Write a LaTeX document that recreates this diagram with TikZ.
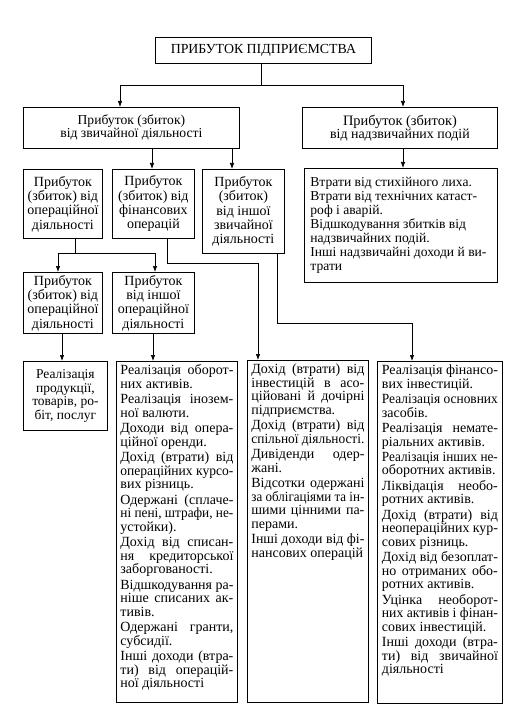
\documentclass[tikz,border=0pt]{standalone}
\usepackage{fontspec}
\usepackage{graphicx}
\setmainfont{Liberation Serif}
\usetikzlibrary{arrows.meta}
% justified line; squeezed horizontally if too wide
\newcommand\jl[1]{\setbox0\hbox{#1}%
  \ifdim\wd0>\hsize
    \pgfmathsetmacro\rr{\hsize/\wd0}\hbox to\hsize{\scalebox{\rr}[1]{#1}}%
  \else\hbox to\hsize{#1}\fi}
\newcommand\lastl[1]{\setbox0\hbox{#1}%
  \ifdim\wd0>\hsize
    \pgfmathsetmacro\rr{\hsize/\wd0}\hbox to\hsize{\scalebox{\rr}[1]{#1}}%
  \else\hbox to\hsize{#1\hfil}\fi}
\newcommand\ig{\vskip1.7pt}
\newcommand\fs{\fontsize{14pt}{13.6pt}\selectfont}
\newcommand\fb{\fontsize{14pt}{14.3pt}\selectfont}
\tikzset{
  bx/.style={draw, line width=0.8pt, anchor=north west, inner sep=0pt, font=\fs},
  cbox/.style={bx, align=center},
  arr/.style={-{Latex[length=6pt,width=4.5pt]}, line width=0.7pt},
  ln/.style={line width=0.7pt}
}
\begin{document}
\begin{tikzpicture}[x=1pt,y=-1pt]
\useasboundingbox (0,0) rectangle (520,714);
% top level
\node[cbox, minimum width=216, minimum height=26, font=\fontsize{13.85pt}{14pt}\selectfont] (title) at (155,37) {ПРИБУТОК ПІДПРИЄМСТВА};
\node[cbox, minimum width=216, minimum height=41] (A) at (23,107) {{\fontsize{13.6pt}{14pt}\selectfont Прибуток (збиток)}\\[-0.5pt]{\fontsize{13.7pt}{14pt}\selectfont від звичайної діяльності}};
\node[cbox, minimum width=195, minimum height=41] (B) at (302,107) {{\fontsize{14.4pt}{14pt}\selectfont Прибуток (збиток)}\\[-0.5pt]{\fontsize{13.9pt}{14pt}\selectfont від надзвичайних подій}};
% second level
\node[cbox, minimum width=79, minimum height=69, font=\fb] (n1) at (23,169) {Прибуток\\(збиток) від\\операційної\\діяльності};
\node[cbox, minimum width=82, minimum height=69, font=\fb] (n2) at (112,169) {Прибуток\\(збиток) від\\фінансових\\операцій};
\node[cbox, minimum width=82, minimum height=84, font=\fb] (n3) at (202,169) {Прибуток\\(збиток)\\від іншої\\звичайної\\діяльності};
\node[bx, minimum width=193, minimum height=114, font=\fontsize{13.6pt}{13.9pt}\selectfont] (v) at (304,168) {\parbox{181pt}{\raggedright Втрати від стихійного лиха.\\Втрати від технічних катаст-\\роф і аварій.\\Відшкодування збитків від\\надзвичайних подій.\\Інші надзвичайні доходи й ви-\\трати}};
% third level
\node[cbox, minimum width=79, minimum height=61, font=\fb] (n4) at (23,272) {Прибуток\\(збиток) від\\операційної\\діяльності};
\node[cbox, minimum width=82, minimum height=61, font=\fb] (n5) at (112,272) {Прибуток\\від іншої\\операційної\\діяльності};
% bottom boxes
\node[cbox, minimum width=84, minimum height=69, font=\fontsize{13.5pt}{13.4pt}\selectfont] (r1) at (23,361) {Реалізація\\продукції,\\товарів, ро-\\біт, послуг};
\node[bx, minimum width=121, minimum height=341] (r2) at (116,361) {\parbox[t][334pt][t]{113pt}{%
\jl{Реалізація оборот-}\lastl{них активів.}\ig
\jl{Реалізація інозем-}\lastl{ної валюти.}\ig
\jl{Доходи від опера-}\lastl{ційної оренди.}\ig
\jl{Дохід (втрати) від}\jl{операційних курсо-}\lastl{вих різниць.}\ig
\jl{Одержані (сплаче-}\jl{ні пені, штрафи, не-}\lastl{устойки).}\ig
\jl{Дохід від списан-}\jl{ня кредиторської}\lastl{заборгованості.}\ig
\jl{Відшкодування ра-}\jl{ніше списаних ак-}\lastl{тивів.}\ig
\jl{Одержані гранти,}\lastl{субсидії.}\ig
\jl{Інші доходи (втра-}\jl{ти) від операцій-}\lastl{ної діяльності}}};
\node[bx, minimum width=121, minimum height=342] (r3) at (247,360) {\parbox[t][335pt][t]{113pt}{%
\jl{Дохід (втрати) від}\jl{інвестицій в асо-}\jl{ційовані й дочірні}\lastl{підприємства.}\ig
\jl{Дохід (втрати) від}\lastl{спільної діяльності.}\ig
\jl{Дивіденди одер-}\lastl{жані.}\ig
\jl{Відсотки одержані}\jl{за облігаціями та ін-}\jl{шими цінними па-}\lastl{перами.}\ig
\jl{Інші доходи від фі-}\lastl{нансових операцій}}};
\node[bx, minimum width=125, minimum height=342] (r4) at (377,361) {\parbox[t][335pt][t]{116pt}{%
\jl{Реалізація фінансо-}\lastl{вих інвестицій.}\ig
\jl{Реалізація основних}\lastl{засобів.}\ig
\jl{Реалізація немате-}\lastl{ріальних активів.}\ig
\jl{Реалізація інших не-}\lastl{оборотних активів.}\ig
\jl{Ліквідація необо-}\lastl{ротних активів.}\ig
\jl{Дохід (втрати) від}\jl{неопераційних кур-}\lastl{сових різниць.}\ig
\jl{Дохід від безоплат-}\jl{но отриманих обо-}\lastl{ротних активів.}\ig
\jl{Уцінка необорот-}\jl{них активів і фінан-}\lastl{сових інвестицій.}\ig
\jl{Інші доходи (втра-}\jl{ти) від звичайної}\lastl{діяльності}}};
% helper coordinates
\coordinate (j0) at (261,85);
\coordinate (ja) at (120,85);
\coordinate (jb) at (403,85);
\coordinate (c152) at (152,0);
\coordinate (c232) at (232,0);
\coordinate (k) at (75,253);
\coordinate (c58) at (58,0);
\coordinate (c155) at (155,0);
\coordinate (c167) at (167,0);
\coordinate (t2) at (258,263);
\coordinate (c277) at (277,0);
\coordinate (t3) at (412,323);
\coordinate (c62) at (62,0);
\coordinate (c153) at (153,0);
% connectors
\draw[ln] (title.south -| j0) -- (j0);
\draw[arr] (j0) -| (A.north -| ja);
\draw[arr] (j0) -| (B.north -| jb);
\draw[arr] (A.south -| c152) -- (n2.north -| c152);
\draw[arr] (A.south -| c232) -- (n3.north -| c232);
\draw[arr] (B.south -| jb) -- (v.north -| jb);
\draw[ln] (n1.south -| k) -- (k);
\draw[arr] (k) -| (n4.north -| c58);
\draw[arr] (k) -| (n5.north -| c155);
\draw[arr] (n2.south -| c167) |- (t2) -- (r3.north -| t2);
\draw[arr] (n3.south -| c277) |- (t3) -- (r4.north -| t3);
\draw[arr] (n4.south -| c62) -- (r1.north -| c62);
\draw[arr] (n5.south -| c153) -- (r2.north -| c153);
\end{tikzpicture}
\end{document}
